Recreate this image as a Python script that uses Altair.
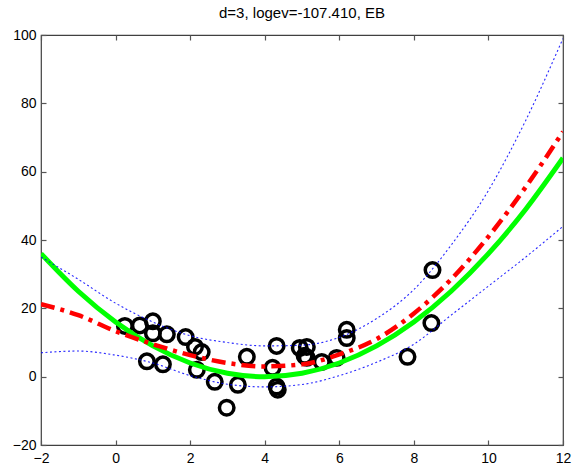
import altair as alt
import pandas as pd

title_text = "d=3, logev=-107.410, EB"

# data points (black circles)
pts_x = [0.25, 0.65, 1.00, 1.00, 1.375, 0.84, 1.27, 1.88, 2.13, 2.31, 2.18, 2.66, 2.98, 3.28, 3.52,
         4.21, 4.32, 4.35, 4.32, 4.94, 5.13, 5.07, 5.13, 5.53, 5.93, 6.20, 6.20, 7.83, 8.47, 8.50]
pts_y = [14.85, 15.0, 16.2, 12.7, 12.4, 4.5, 3.6, 11.6, 8.7, 7.2, 2.0, -1.5, -9.1, -2.4, 5.8,
         2.6, -2.9, -3.8, 9.0, 8.4, 8.7, 6.1, 5.5, 4.3, 5.5, 13.7, 11.3, 5.8, 15.7, 31.2]

# curves read at integer x
grid_x = [-2, -1, 0, 1, 2, 3, 4, 5, 6, 7, 8, 9, 10, 11, 12]
true_y = [36, 25, 16, 9, 4, 1, 0, 1, 4, 9, 16, 25, 36, 49, 64]
mean_y = [21.2, 18.0, 13.3, 9.5, 6.3, 4.0, 3.0, 3.6, 6.5, 11.0, 18.5, 28.5, 41.0, 55.5, 71.7]
upper_y = [35.0, 28.5, 21.5, 16.0, 12.0, 10.0, 9.0, 9.2, 11.5, 17.0, 25.5, 38.5, 54.5, 75.0, 99.0]
lower_y = [7.0, 7.5, 6.3, 4.0, 0.3, -2.2, -3.0, -2.3, 0.3, 4.2, 9.5, 18.0, 26.5, 35.0, 44.0]

x_ticks = [-2, 0, 2, 4, 6, 8, 10, 12]
y_ticks = [-20, 0, 20, 40, 60, 80, 100]

W, H = 522, 410
FONT = "Liberation Sans"

pts = pd.DataFrame({"x": pts_x, "y": pts_y})
curves = pd.DataFrame({"x": grid_x, "true": true_y, "mean": mean_y,
                       "upper": upper_y, "lower": lower_y})

xs = alt.Scale(domain=[-2, 12], nice=False, zero=False)
ys = alt.Scale(domain=[-20, 100], nice=False, zero=False)

tick_style = dict(ticks=True, tickSize={"expr": "-5"}, tickColor="#555555", tickWidth=1.2,
                  domain=False, grid=False, title=None, zindex=5)

main_x_axis = alt.Axis(values=x_ticks, labelFontSize=14, labelFont=FONT, labelColor="black",
                       labelPadding=11, labelFlush=False, orient="bottom", **tick_style)
main_y_axis = alt.Axis(values=y_ticks, labelFontSize=14, labelFont=FONT, labelColor="black",
                       labelPadding=10, labelFlush=False, orient="left", **tick_style)

points = alt.Chart(pts).mark_point(shape="circle", size=210, strokeWidth=3.5,
                                   color="black", filled=False, opacity=1).encode(
    x=alt.X("x:Q", scale=xs, axis=main_x_axis),
    y=alt.Y("y:Q", scale=ys, axis=main_y_axis),
)

def curve(field, color, width, dash=None, opacity=1.0):
    kw = dict(color=color, strokeWidth=width, interpolate="monotone", clip=True,
              opacity=opacity)
    if dash:
        kw["strokeDash"] = dash
    return alt.Chart(curves).mark_line(**kw).encode(
        x=alt.X("x:Q", scale=xs, axis=None),
        y=alt.Y(field + ":Q", scale=ys, axis=None),
    )

green = curve("true", "#00ff00", 5)
red = curve("mean", "#ff0000", 4.5, dash=[14, 6, 4, 6])
upper = curve("upper", "#0000ff", 1.1, dash=[2, 2.5], opacity=0.85)
lower = curve("lower", "#0000ff", 1.1, dash=[2, 2.5], opacity=0.85)

ticks_top_right = alt.Chart(curves).mark_line(opacity=0).encode(
    x=alt.X("x:Q", scale=xs, axis=alt.Axis(values=x_ticks, orient="top", labels=False, **tick_style)),
    y=alt.Y("true:Q", scale=ys, axis=alt.Axis(values=y_ticks, orient="right", labels=False, **tick_style)),
)

chart = alt.layer(points, green, red, upper, lower, ticks_top_right).resolve_axis(
    x="independent", y="independent"
).properties(
    width=W, height=H,
    title=alt.TitleParams(title_text, fontSize=15, font=FONT, fontWeight="normal",
                          color="black", anchor="middle", offset=7),
    autosize=alt.AutoSizeParams(type="none"),
    padding={"left": 41, "top": 35, "right": 9, "bottom": 23},
    background="white",
).configure_view(stroke="#404040", strokeWidth=1.2)

chart.save("out.html", embed_options={"renderer": "svg", "actions": False})
